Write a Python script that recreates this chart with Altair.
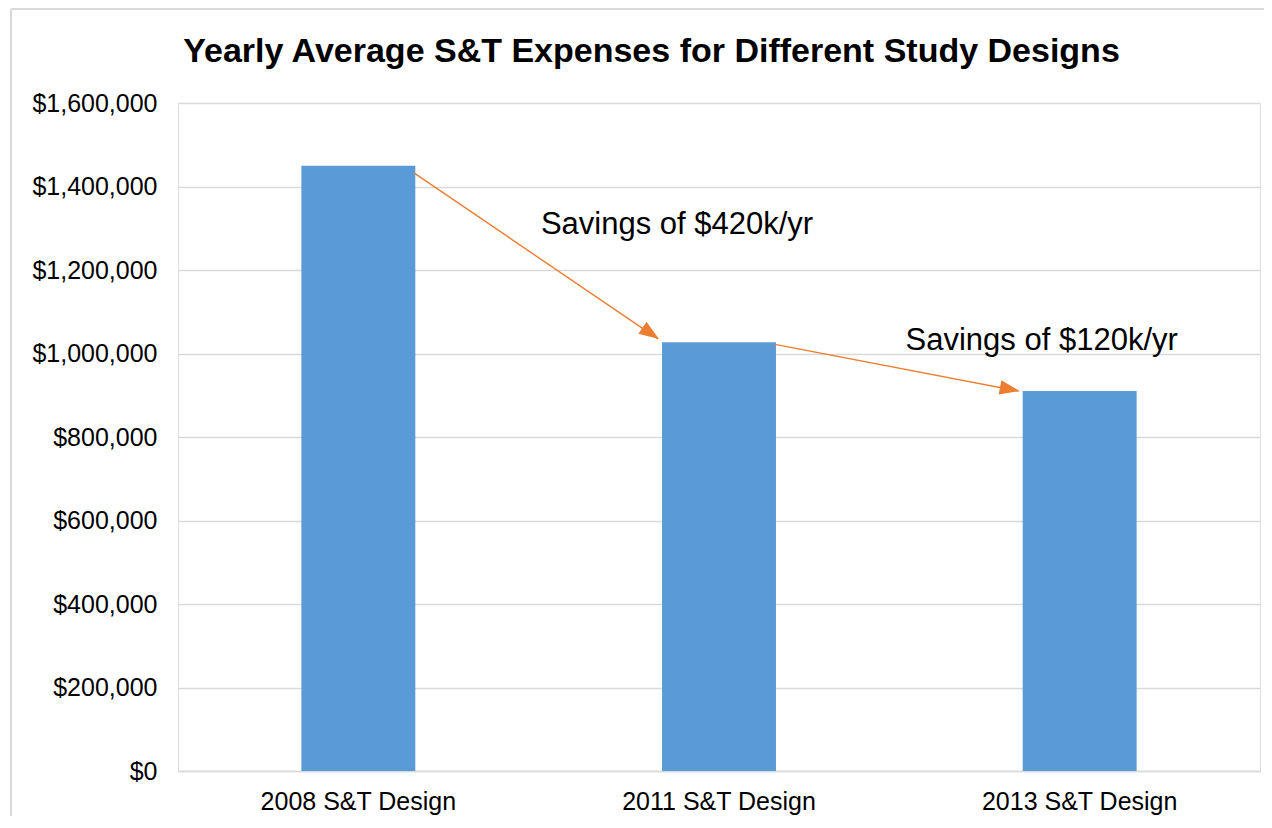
import altair as alt
import pandas as pd

# ---- data ----
categories = ["2008 S&T Design", "2011 S&T Design", "2013 S&T Design"]
expenses = [1450000, 1027000, 910000]

arrow_from = ["2008 S&T Design", "2011 S&T Design"]
arrow_to = ["2011 S&T Design", "2013 S&T Design"]
arrow_from_val = [1432000, 1022000]
arrow_to_val = [1035000, 910000]
arrow_angle = [34.1, 10.8]

note_text = ["Savings of $420k/yr", "Savings of $120k/yr"]
note_cat = ["2011 S&T Design", "2013 S&T Design"]
note_val = [1308000, 1030000]
note_dx = [15, 19]

y_ticks = [0, 200000, 400000, 600000, 800000, 1000000, 1200000, 1400000, 1600000]
title_text = ["Yearly Average S&T Expenses for Different Study Designs"]

FONT = "Liberation Sans"
BLUE = "#5B9BD5"
ORANGE = "#ED7D31"
GRID = "#d9d9d9"

bars_df = pd.DataFrame({"design": categories, "expense": expenses})
arrows_df = pd.DataFrame({"src": arrow_from, "dst": arrow_to,
                          "src_val": arrow_from_val, "dst_val": arrow_to_val,
                          "angle": arrow_angle})
notes_df = pd.DataFrame({"text": note_text, "design": note_cat,
                         "val": note_val, "dx": note_dx})
title_df = pd.DataFrame({"t": title_text})

W, H = 1082, 668

xscale = alt.Scale(domain=categories, paddingInner=0.684, paddingOuter=0.342)
yscale = alt.Scale(domain=[0, 1600000], nice=False)

bars = alt.Chart(bars_df).mark_bar(color=BLUE).encode(
    x=alt.X("design:N", scale=xscale, sort=None, title=None,
            axis=alt.Axis(labelAngle=0, labelFontSize=25, labelFont=FONT,
                          labelColor="#000000", ticks=False, domainColor=GRID,
                          domainWidth=1.5, labelPadding=18, labelLimit=0,
                          grid=False)),
    y=alt.Y("expense:Q", scale=yscale, title=None,
            axis=alt.Axis(values=y_ticks, format="$,.0f", labelFontSize=25,
                          labelFont=FONT, labelColor="#000000", ticks=False,
                          domain=False, gridColor=GRID, gridWidth=1.5,
                          labelPadding=21)),
)

lines = alt.Chart(arrows_df).mark_rule(color=ORANGE, strokeWidth=1.4,
                                        xOffset=-1, x2Offset=-4).encode(
    x=alt.X("src:N", scale=xscale, bandPosition=1),
    x2=alt.X2("dst:N", bandPosition=0),
    y=alt.Y("src_val:Q", scale=yscale),
    y2=alt.Y2("dst_val:Q"),
)

heads = alt.Chart(arrows_df).mark_point(
    shape="M0,0L-1,-0.36L-1,0.36Z", filled=True, size=1600, opacity=1,
    color=ORANGE, xOffset=-3).encode(
    x=alt.X("dst:N", scale=xscale, bandPosition=0),
    y=alt.Y("dst_val:Q", scale=yscale),
    angle=alt.Angle("angle:Q", scale=None),
)

notes = alt.Chart(notes_df).mark_text(font=FONT, fontSize=31, color="#000000",
                                      align="center", baseline="middle").encode(
    x=alt.X("design:N", scale=xscale),
    y=alt.Y("val:Q", scale=yscale),
    text="text:N",
    xOffset=alt.XOffset("dx:Q", scale=None),
)

title = alt.Chart(title_df).mark_text(font=FONT, fontSize=34, fontWeight="bold",
                                      color="#000000", align="center",
                                      baseline="middle").encode(
    x=alt.value(473.5), y=alt.value(-51), text="t:N")

border_v = alt.Chart(bars_df).mark_rule(color=GRID, strokeWidth=2).encode(
    x=alt.value(-167), y=alt.value(-94), y2=alt.value(H + 70))
border_h = alt.Chart(bars_df).mark_rule(color=GRID, strokeWidth=2).encode(
    x=alt.value(-167), x2=alt.value(W + 20), y=alt.value(-94))

chart = alt.layer(border_v, border_h, bars, lines, heads, notes, title).properties(
    width=W, height=H,
    autosize=alt.AutoSizeParams(type="none"),
    padding={"left": 170, "top": 95, "right": 4, "bottom": 45},
).configure_view(stroke=None).configure(background="white")

chart.save("out.html", embed_options={"renderer": "svg", "actions": False})
